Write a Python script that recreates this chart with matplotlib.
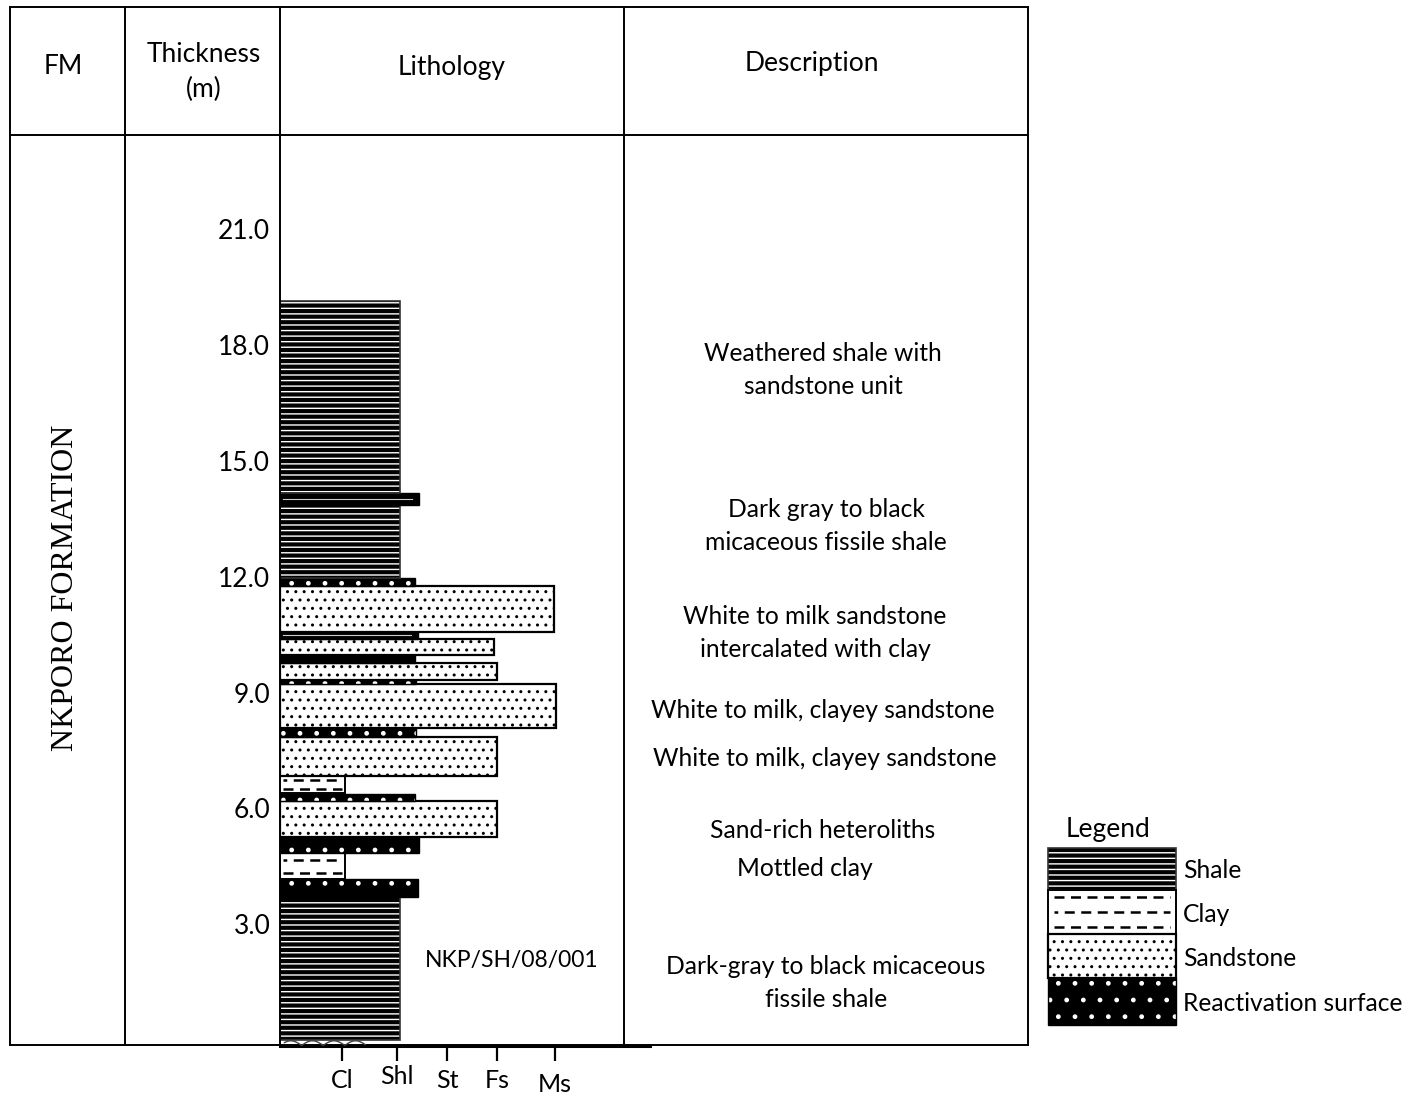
import numpy as np
import matplotlib
matplotlib.use('Agg')
import matplotlib.pyplot as plt
import matplotlib.patches as mpatches

plt.rcParams['font.family'] = ['Lato', 'DejaVu Sans']
plt.rcParams['hatch.linewidth'] = 1.0

# Lithology log: base / top of each bed (m) and grain-size width
bed_base = [0.00, 3.70, 4.17, 4.84, 5.26, 6.19, 6.40, 6.84, 7.85, 8.08, 9.22, 9.32,
            9.76, 9.97, 10.39, 10.57, 11.76, 11.97, 13.86, 14.17]
bed_top = [3.70, 4.17, 4.84, 5.26, 6.19, 6.37, 6.84, 7.85, 8.08, 9.22, 9.32, 9.76,
           9.97, 10.39, 10.57, 11.76, 11.97, 13.86, 14.17, 19.14]
bed_kind = ['shale', 'react', 'clay', 'react', 'sand', 'react', 'clay', 'sand', 'react', 'sand',
            'react', 'sand', 'react', 'sand', 'mark', 'sand', 'react', 'shale', 'mark', 'shale']
bed_width = [2.18, 2.50, 1.18, 2.52, 3.95, 2.45, 1.18, 3.95, 2.47, 5.02,
             2.47, 3.94, 2.45, 3.89, 2.50, 4.98, 2.45, 2.18, 2.52, 2.18]

grain_pos = [1.13, 2.13, 3.04, 3.95, 5.0]
grain_labels = ['Cl', 'Shl', 'St', 'Fs', 'Ms']
depth_ticks = [3, 6, 9, 12, 15, 18, 21]

descriptions = ['Weathered shale with\nsandstone unit',
                'Dark gray to black\nmicaceous fissile shale',
                'White to milk sandstone\nintercalated with clay',
                'White to milk, clayey sandstone',
                'White to milk, clayey sandstone',
                'Sand-rich heteroliths',
                'Mottled clay',
                'Dark-gray to black micaceous\nfissile shale']
desc_xy = [(823, 370), (826, 526), (815, 633), (823, 710), (825, 759),
           (823, 830), (805, 869), (826, 983)]

legend_kinds = ['shale', 'clay', 'sand', 'react']
legend_names = ['Shale', 'Clay', 'Sandstone', 'Reactivation surface']


def draw_bed(ax, x0, y0, w, h, kind, rows=2):
    if kind == 'shale':
        ax.add_patch(mpatches.Rectangle((x0, y0), w, h, facecolor='black',
                                        edgecolor='white', hatch='---', lw=0))
        ax.add_patch(mpatches.Rectangle((x0, y0), w, h, fill=False,
                                        edgecolor='#333333', lw=1.2))
    elif kind == 'sand':
        ax.add_patch(mpatches.Rectangle((x0, y0), w, h, facecolor='white',
                                        edgecolor='black', hatch='..', lw=0))
        ax.add_patch(mpatches.Rectangle((x0, y0), w, h, fill=False,
                                        edgecolor='black', lw=1.6))
    elif kind == 'react':
        ax.add_patch(mpatches.Rectangle((x0, y0), w, h, facecolor='black',
                                        edgecolor='white', hatch='.', lw=0))
        ax.add_patch(mpatches.Rectangle((x0, y0), w, h, fill=False,
                                        edgecolor='black', lw=1.0))
    elif kind == 'mark':
        ax.add_patch(mpatches.Rectangle((x0, y0), w, h, facecolor='black',
                                        edgecolor='black', lw=1.0))
        ax.plot([x0 + 0.02 * w, x0 + 0.95 * w], [y0 + h / 2, y0 + h / 2],
                color='#cccccc', lw=0.8)
    elif kind == 'clay':
        ax.add_patch(mpatches.Rectangle((x0, y0), w, h, facecolor='white',
                                        edgecolor='black', lw=1.4))
        for i in range(rows):
            yy = y0 + h * (i + 0.5) / rows
            ax.plot([x0 + 0.05 * w, x0 + 0.95 * w], [yy, yy], color='black',
                    lw=1.8, linestyle=(2.5 * (i % 2), (4, 2.6)), solid_capstyle='butt')


W, H = 1419, 1099
fig = plt.figure(figsize=(W / 100, H / 100), dpi=100)

# background axes in pixel coordinates for the table frame
bg = fig.add_axes([0, 0, 1, 1])
bg.set_xlim(0, W)
bg.set_ylim(H, 0)
bg.axis('off')

frame_kw = dict(color='black', lw=1.4, solid_capstyle='projecting')
bg.plot([10, 1028], [7, 7], **frame_kw)
bg.plot([10, 1028], [135, 135], **frame_kw)
bg.plot([10, 1028], [1045, 1045], **frame_kw)
for xv in [10, 125, 624, 1028]:
    bg.plot([xv, xv], [7, 1045], **frame_kw)
bg.plot([280, 280], [7, 135], **frame_kw)
bg.plot([280, 650], [1046, 1046], color='black', lw=2.2)

hdr = dict(ha='center', va='center', fontsize=19)
bg.text(63, 67, 'FM', **hdr)
bg.text(204, 72, 'Thickness\n(m)', linespacing=1.45, **hdr)
bg.text(452, 67, 'Lithology', **hdr)
bg.text(812, 63, 'Description', **hdr)

bg.text(66, 588, 'NKPORO FORMATION', rotation=90, ha='center', va='center',
        fontsize=23, family='Liberation Serif')

for txt, (xx, yy) in zip(descriptions, desc_xy):
    bg.text(xx, yy, txt, ha='center', va='center', fontsize=17.7, linespacing=1.5)

bg.text(512, 961, 'NKP/SH/08/001', ha='center', va='center', fontsize=16.5)

# legend
bg.text(1108, 830, 'Legend', ha='center', va='center', fontsize=19)
leg_y = [848, 890, 934, 978, 1025]
for i, (kind, name) in enumerate(zip(legend_kinds, legend_names)):
    y0, y1 = leg_y[i], leg_y[i + 1]
    draw_bed(bg, 1048, y0, 128, y1 - y0, kind, rows=3)
    bg.text(1183, (y0 + y1) / 2 + 2, name, ha='left', va='center', fontsize=17.7)

# lithology log axes: x = grain size, y = thickness (m)
px_per_m = 38.61
top_px, bot_px, zero_px = 135, 1046, 1040
ax = fig.add_axes([280 / W, 1 - bot_px / H, 370 / W, (bot_px - top_px) / H])
ax.set_xlim(0, 370 / 55)
ax.set_ylim(-(bot_px - zero_px) / px_per_m, (zero_px - top_px) / px_per_m)
ax.patch.set_alpha(0)
for s in ax.spines.values():
    s.set_visible(False)
ax.spines['left'].set_visible(True)
ax.spines['left'].set_linewidth(1.4)

for b, t, k, wd in zip(bed_base, bed_top, bed_kind, bed_width):
    draw_bed(ax, 0, b, wd, t - b, k)

# erosional base under the log
xw = np.linspace(0.08, 1.55, 200)
ax.plot(xw, -0.14 + 0.12 * np.abs(np.sin(xw * 8)), color='#444444', lw=1.0)

ax.set_yticks(depth_ticks, [f'{d:.1f}' for d in depth_ticks])
ax.tick_params(axis='y', length=0, pad=7, labelsize=19)
ax.xaxis.set_ticks_position('bottom')
ax.set_xticks(grain_pos, [''] * len(grain_pos))
ax.tick_params(axis='x', direction='out', length=11, width=1.6, pad=0,
               labelbottom=False)

lab_y = [1080, 1077, 1080, 1080, 1085]
for gx, gl, ly in zip(grain_pos, grain_labels, lab_y):
    xfig = ax.transData.transform((gx, 0))[0]
    bg.text(xfig * W / fig.bbox.width, ly, gl, ha='center', va='center', fontsize=18)

fig.savefig('out.png', dpi=100)
